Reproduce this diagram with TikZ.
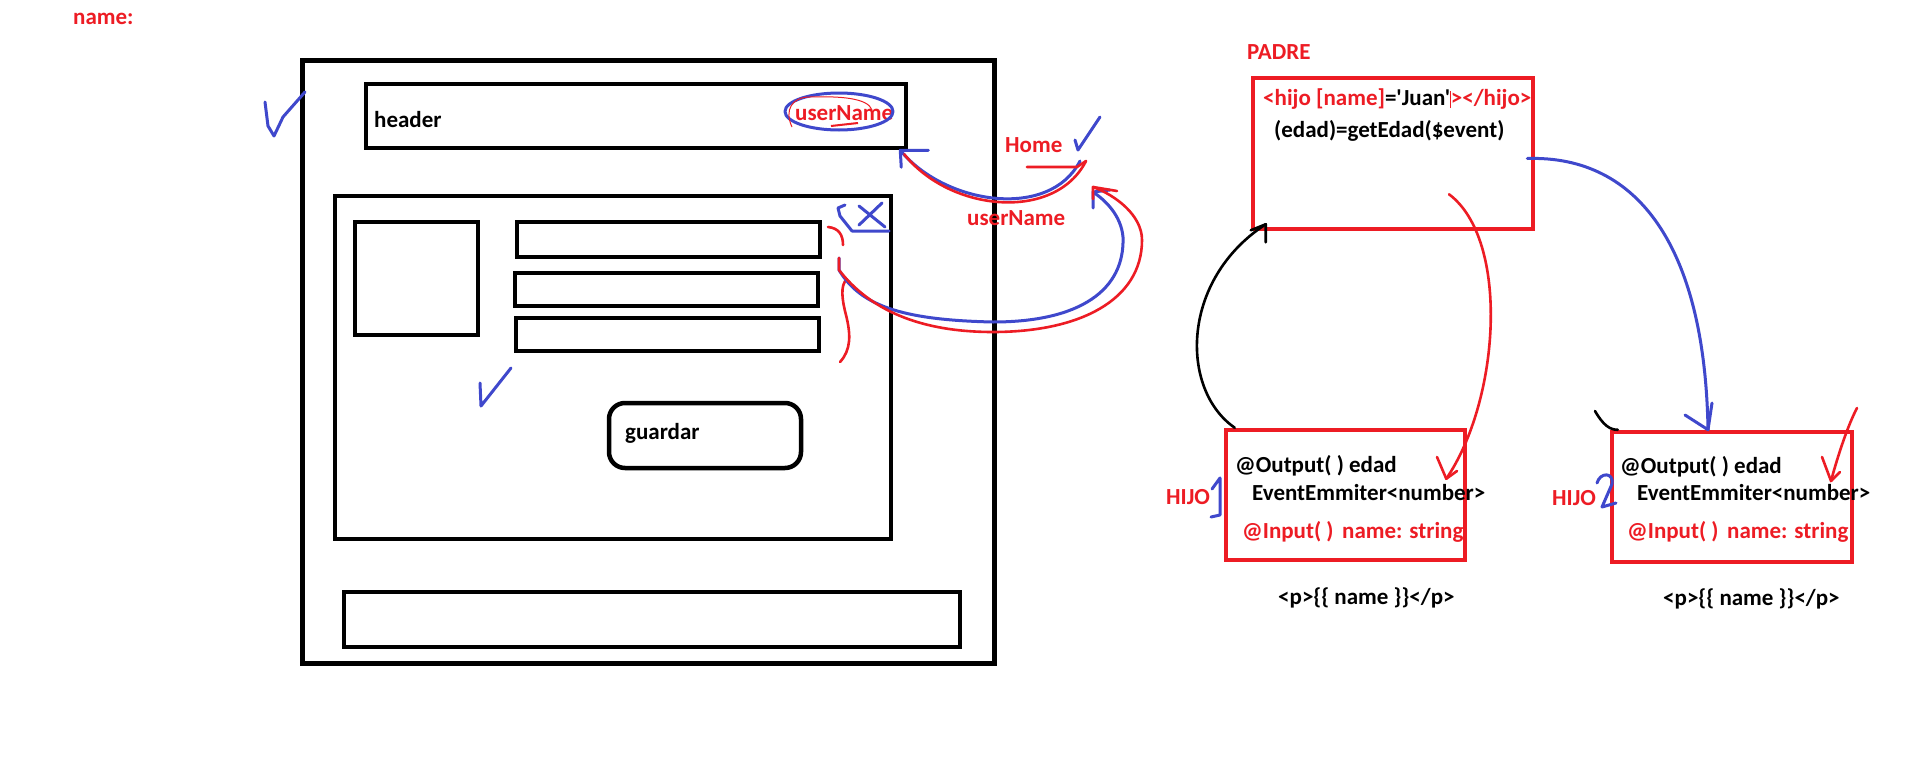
\documentclass[tikz,border=0pt]{standalone}
\usepackage{fontspec}
\newfontfamily\sketchfont{Carlito}
\definecolor{penred}{RGB}{237,28,36}
\definecolor{penblue}{RGB}{63,72,204}

\begin{document}
\begin{tikzpicture}[x=1pt, y=-1pt,
    frame/.style={draw, line width=4.5pt, inner sep=0pt},
    redframe/.style={draw=penred, line width=4.5pt, inner sep=0pt},
    word/.style={font=\sketchfont\bfseries\fontsize{23}{27}\selectfont, inner sep=0pt, anchor=base west},
    redword/.style={word, text=penred},
    bluepen/.style={draw=penblue, line width=3pt, line cap=round, line join=round},
    redpen/.style={draw=penred, line width=2.6pt, line cap=round, line join=round},
    blackpen/.style={draw=black, line width=2.6pt, line cap=round, line join=round}]

\fill[white] (0,0) rectangle (1917,771);
\useasboundingbox (0,0) rectangle (1917,771);

% page mock-up
\node[frame, line width=5pt, minimum width=692pt, minimum height=603pt] (page) at (648,361.5) {};
\node[frame, minimum width=540pt, minimum height=64pt] (header) at (636,116) {};
\node[frame, minimum width=556pt, minimum height=343pt] (panel) at (613,367.5) {};
\node[frame, minimum width=123pt, minimum height=113pt] (photo) at (416.5,278.5) {};
\node[frame, minimum width=303pt, minimum height=35pt] (barA) at (668.5,239.5) {};
\node[frame, minimum width=303pt, minimum height=33pt] (barB) at (666.5,289.5) {};
\node[frame, minimum width=303pt, minimum height=33pt] (barC) at (667.5,334.5) {};
\node[frame, rounded corners=16pt, minimum width=192pt, minimum height=65pt] (save) at (705,435.5) {};
\node[frame, minimum width=616pt, minimum height=55pt] (footer) at (652,619.5) {};

\node[redword] (fieldname) at (73,24) {name:};
\node[word] (headertxt) at (374,127) {header};
\node[redword] (username) at (795,120) {userName};
\node[word] (savetxt) at (625,439) {guardar};
\node[redword] (home) at (1005,152) {Home};
\node[redword] (userlink) at (967,225) {userName};

% components
\node[redframe, minimum width=280pt, minimum height=151pt] (padre) at (1393,153.5) {};
\node[redframe, minimum width=239pt, minimum height=130pt] (hijoA) at (1345.5,495) {};
\node[redframe, minimum width=240pt, minimum height=130pt] (hijoB) at (1732,497) {};

\node[redword] (padrelbl) at (1247,59) {PADRE};
\node[word] (bindline) at (1263,105) {\textcolor{penred}{<hijo [name]}='Juan'\textcolor{penred}{\rule[-3pt]{0.8pt}{17pt}></hijo>}};
\node[word] (eventline) at (1274,137) {(edad)=getEdad(\$event)};

\node[word] (outA) at (1235,472) {@Output( ) edad};
\node[word] (emitA) at (1252,500) {EventEmmiter<number>};
\node[redword] (inA) at (1242,538) {@Input( )};
\node[redword] (propA) at (1342,538) {name: string};
\node[redword] (hijoAlbl) at (1166,504) {HIJO};
\node[word] (tplA) at (1278,604) {<p>\{\{ name \}\}</p>};

\node[word] (outB) at (1620,473) {@Output( ) edad};
\node[word] (emitB) at (1637,500) {EventEmmiter<number>};
\node[redword] (inB) at (1627,538) {@Input( )};
\node[redword] (propB) at (1727,538) {name: string};
\node[redword] (hijoBlbl) at (1552,505) {HIJO};
\node[word] (tplB) at (1663,605) {<p>\{\{ name \}\}</p>};

% marks on the mock-up
\draw[bluepen] (839,111.5) ellipse [x radius=54, y radius=18.5];
\draw[penred, line width=1pt] (792,127) .. controls (784,110) and (792,97) .. (810,97) .. controls (840,96) and (868,98) .. (872,110);
\draw[penred, line width=2pt] (831,126) -- (858,123);
\draw[bluepen] (265,102) -- (268,126) -- (274,136) -- (283,117) -- (305,92);
\draw[bluepen] (480,383) -- (481,406) -- (511,368);
\draw[bluepen] (1075,140) -- (1078,150) -- (1100,117);
\draw[bluepen] (859,206) -- (885,227) (882,203) -- (859,225);
\draw[bluepen] (845,205) -- (838,208) -- (840,216) -- (844,221) -- (852,231) -- (889,231);
\draw[redpen] (828,227) .. controls (838,228) and (843,234) .. (843,245);
\draw[redpen] (847,279) .. controls (840,285) and (842,300) .. (846,315) .. controls (851,335) and (851,350) .. (840,362);

% form <-> Home
\coordinate (formlink) at (839,258);
\coordinate (homein) at (1093,192);
\draw[bluepen] (formlink) -- ++(0,12) .. controls (860,305) and (900,320) .. (993,322) .. controls (1080,322) and (1125,290) .. (1123,237) .. controls (1121,215) and (1105,200) .. (homein);
\draw[bluepen] ([yshift=-16pt]homein) -- (homein) -- ++(17,-2);
\draw[redpen] (formlink) -- ++(0,12) .. controls (870,310) and (920,332) .. (993,332) .. controls (1080,332) and (1142,300) .. (1142,240) .. controls (1142,215) and (1115,195) .. ([yshift=5pt]homein);
\draw[redpen] ([yshift=-7pt]homein) -- ([yshift=5pt]homein) -- ++(24,4);

% Home -> header
\coordinate (homeout) at (1080,161);
\draw[bluepen] (homeout) .. controls (1050,220) and (945,205) .. ([xshift=-8pt]header.south east);
\draw[bluepen] ([xshift=20pt]header.south east) -- ([xshift=-8pt]header.south east) -- ([xshift=-7pt,yshift=-17pt]header.south east);
\draw[redpen] ([xshift=6pt]homeout) .. controls (1055,222) and (950,212) .. ([xshift=-4pt,yshift=-4pt]header.south east);
\draw[redpen] (1027,167) -- (1077,167) -- ([xshift=6pt]homeout);

% padre <-> hijos
\draw[blackpen] ([xshift=11pt]hijoA.north west) .. controls (1180,390) and (1180,280) .. ([xshift=15pt,yshift=7pt]padre.south west);
\draw[blackpen] ([xshift=15pt,yshift=-11pt]padre.south west) -- ([xshift=15pt,yshift=7pt]padre.south west) -- ([xshift=0pt,yshift=1pt]padre.south west);
\draw[redpen] ([xshift=56pt,yshift=37pt]padre.south) .. controls (1510,240) and (1500,400) .. ([xshift=-21pt,yshift=-51pt]hijoA.north east);
\draw[redpen] (1437,457) -- ([xshift=-21pt,yshift=-51pt]hijoA.north east) -- (1457,471);
\draw[bluepen] ([xshift=-8pt,yshift=-5pt]padre.east) .. controls (1640,155) and (1705,250) .. ([xshift=-24pt]hijoB.north);
\draw[bluepen] (1685,415) -- ([xshift=-24pt]hijoB.north) -- (1712,403);
\draw[redpen] (1857,408) .. controls (1848,425) and (1838,455) .. (1831,481);
\draw[redpen] (1822,457) -- (1831,481) -- (1840,472);
\draw[blackpen] (1595,411) .. controls (1603,425) and (1610,430) .. ([xshift=8pt]hijoB.north west);
\draw[bluepen] (1212,489) -- (1220,478) -- (1220,515) -- (1211,517);
\draw[bluepen] (1597,483) .. controls (1600,472) and (1614,472) .. (1612,484) -- (1602,507) -- (1616,503);
\end{tikzpicture}
\end{document}
